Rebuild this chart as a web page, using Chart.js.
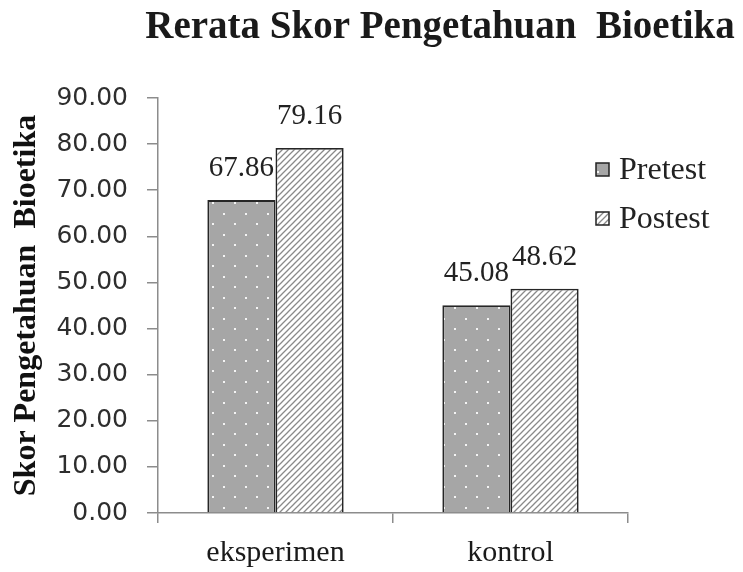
<!DOCTYPE html>
<html>
<head>
<meta charset="utf-8">
<script src="https://cdn.jsdelivr.net/npm/chart.js@4.4.1/dist/chart.umd.min.js"></script>
<style>
  html, body { margin: 0; padding: 0; background: #fff; }
</style>
</head>
<body>
<canvas id="bar" width="743" height="572"></canvas>
<script>
const categories = ['eksperimen', 'kontrol'];
const pretest = [67.86, 45.08];
const postest = [79.16, 48.62];
const seriesNames = ['Pretest', 'Postest'];
const yMin = 0, yMax = 90, yStep = 10;

// fill patterns
function dotPattern() {
  const c = document.createElement('canvas');
  c.width = 22; c.height = 21;
  const g = c.getContext('2d');
  g.fillStyle = '#a6a6a6';
  g.fillRect(0, 0, 22, 21);
  g.fillStyle = '#f4f4f4';
  g.fillRect(3, 3, 2, 2);
  g.fillRect(14, 13, 2, 2);
  return g.createPattern(c, 'repeat');
}

function hatchPattern() {
  const c = document.createElement('canvas');
  c.width = 6; c.height = 6;
  const g = c.getContext('2d');
  g.fillStyle = '#ffffff';
  g.fillRect(0, 0, 6, 6);
  g.strokeStyle = '#8a8a8a';
  g.lineWidth = 1.3;
  g.beginPath();
  g.moveTo(0, 6); g.lineTo(6, 0);
  g.moveTo(-1, 1); g.lineTo(1, -1);
  g.moveTo(5, 7); g.lineTo(7, 5);
  g.stroke();
  return g.createPattern(c, 'repeat');
}

const serif = "'Liberation Serif', 'Times New Roman', serif";

const extras = {
  id: 'extras',
  afterDatasetsDraw(chart) {
    const ctx = chart.ctx;
    ctx.save();
    // value labels
    ctx.font = '29px ' + serif;
    ctx.fillStyle = '#222';
    ctx.textAlign = 'center';
    ctx.textBaseline = 'alphabetic';
    chart.data.datasets.forEach((ds, i) => {
      chart.getDatasetMeta(i).data.forEach((el, j) => {
        ctx.fillText(ds.data[j].toFixed(2), el.x, el.y - 24);
      });
    });
    // title
    ctx.font = 'bold 39px ' + serif;
    ctx.fillStyle = '#1a1a1a';
    ctx.fillText('Rerata Skor Pengetahuan  Bioetika', 440, 38);
    // legend
    ctx.textAlign = 'left';
    ctx.font = '32px ' + serif;
    chart.data.datasets.forEach((ds, i) => {
      const y = 163 + i * 49;
      ctx.fillStyle = ds.backgroundColor;
      ctx.fillRect(596, y, 13, 13);
      ctx.strokeStyle = '#222';
      ctx.lineWidth = 1.5;
      ctx.strokeRect(596, y, 13, 13);
      ctx.fillStyle = '#222';
      ctx.fillText(ds.label, 619, y + 16);
    });
    ctx.restore();
  }
};

new Chart(document.getElementById('bar'), {
  type: 'bar',
  data: {
    labels: categories,
    datasets: [
      {
        label: seriesNames[0],
        data: pretest,
        backgroundColor: dotPattern(),
        borderColor: '#262626',
        borderWidth: 1.8
      },
      {
        label: seriesNames[1],
        data: postest,
        backgroundColor: hatchPattern(),
        borderColor: '#262626',
        borderWidth: 1.8
      }
    ]
  },
  options: {
    responsive: false,
    animation: false,
    layout: { padding: { top: 98, right: 115, bottom: 0, left: 0 } },
    datasets: {
      bar: { categoryPercentage: 0.58, barPercentage: 1.0 }
    },
    scales: {
      x: {
        offset: true,
        afterFit: (s) => { s.height = 59; },
        grid: { drawOnChartArea: false, offset: true, tickLength: 10, color: '#8c8c8c', lineWidth: 1.5 },
        border: { color: '#8c8c8c', width: 1.5 },
        ticks: { font: { family: serif, size: 30 }, color: '#1a1a1a', padding: 12 }
      },
      y: {
        min: yMin,
        max: yMax,
        afterFit: (s) => { s.width = 158; },
        grid: { drawOnChartArea: false, tickLength: 11, color: '#8c8c8c', lineWidth: 1.5 },
        border: { color: '#8c8c8c', width: 1.5 },
        ticks: {
          stepSize: yStep,
          padding: 19,
          color: '#2e2e2e',
          font: { family: "'DejaVu Sans', sans-serif", size: 25 },
          callback: (v) => v.toFixed(2)
        },
        title: {
          display: true,
          text: 'Skor Pengetahuan  Bioetika',
          color: '#111',
          font: { family: serif, size: 32, weight: 'bold' },
          padding: { top: 8, bottom: 0 }
        }
      }
    },
    plugins: {
      legend: { display: false },
      tooltip: { enabled: false }
    }
  },
  plugins: [extras]
});
</script>
</body>
</html>
